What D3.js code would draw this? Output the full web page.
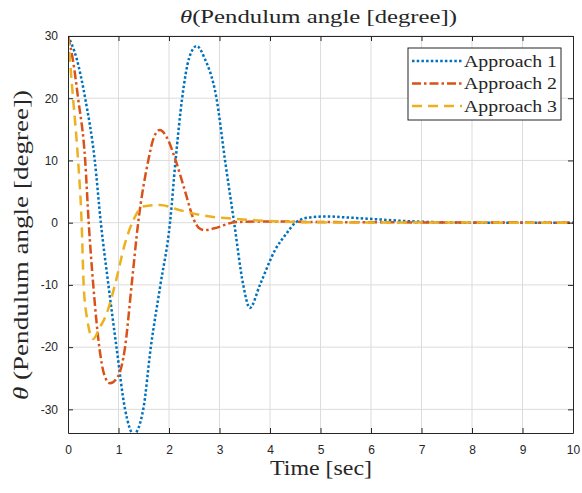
<!DOCTYPE html>
<meta charset="utf-8">
<style>
body { margin: 0; background: #fff; }
.tick text { font-family: "Liberation Sans", Arial, sans-serif; font-size: 12px; fill: #262626; }
.lbl { font-family: "Liberation Serif", "DejaVu Serif", serif; fill: #262626; }
.grid line { stroke: #dcdcdc; stroke-width: 1; }
</style>
<body>
<script src="https://cdn.jsdelivr.net/npm/d3@7"></script>
<script>

var width = 582,
    height = 493;

var margin = {top: 36, right: 9, bottom: 60, left: 68};

// values (time in sec, angle in degree)
var tApproach1 = [0, 0.17, 0.34, 0.53, 0.65, 0.8, 0.96, 1.13, 1.3, 1.49, 1.64, 1.83, 2.02, 2.13, 2.26, 2.4, 2.55, 2.7, 2.94, 3.11, 3.29, 3.47, 3.6, 3.8, 4.1, 4.33, 4.5, 4.75, 5.1, 5.6, 6.2, 6.6, 7.2, 8, 10];
var vApproach1 = [30, 26.4, 20, 10, 0, -10, -20, -30, -34, -30, -20, -10, 0, 10, 20, 26.5, 28.4, 26.5, 20, 10, 0, -10, -13.7, -10, -4.4, -1.7, 0, 0.8, 1.0, 0.8, 0.5, 0.3, 0.1, 0, 0];

var tApproach2 = [0, 0.1, 0.2, 0.34, 0.41, 0.5, 0.62, 0.72, 0.83, 0.99, 1.13, 1.26, 1.39, 1.59, 1.7, 1.82, 1.95, 2.12, 2.32, 2.48, 2.6, 2.7, 2.9, 3.33, 4, 5, 10];
var vApproach2 = [30, 26, 20, 10, 0, -10, -20, -24.5, -25.8, -24.7, -20, -10, 0, 10, 13.7, 14.9, 13.8, 10.3, 5, 0.7, -0.9, -1.2, -0.9, 0.1, 0.2, 0.1, 0];

var tApproach3 = [0, 0.1, 0.2, 0.27, 0.31, 0.38, 0.5, 0.62, 0.77, 0.93, 1.13, 1.3, 1.49, 1.82, 2.22, 2.61, 3.0, 3.33, 4, 5, 10];
var vApproach3 = [30, 20, 10, 0, -10, -15.5, -18.7, -17, -14.5, -10, -3.3, 0.5, 2.6, 2.85, 2.0, 1.25, 0.8, 0.6, 0.25, 0.05, 0];

var seriesNames = ["Approach 1", "Approach 2", "Approach 3"];
var seriesColors = ["#0072bd", "#d95319", "#edb120"];
var seriesDash = ["2.5,2.2", "9,3,2.5,3", "10,6"];

var xTicks = d3.range(0, 11, 1);
var yTicks = [-30, -20, -10, 0, 10, 20, 30];

var series = [
  d3.zip(tApproach1, vApproach1),
  d3.zip(tApproach2, vApproach2),
  d3.zip(tApproach3, vApproach3)
];

var x = d3.scaleLinear().domain([0, 10]).range([margin.left, width - margin.right]);
var y = d3.scaleLinear().domain([-33.8, 30]).range([height - margin.bottom, margin.top]);

var svg = d3.select("body").append("svg")
    .attr("width", width)
    .attr("height", height);

// grid
svg.append("g").attr("class", "grid")
  .selectAll("line").data(xTicks.slice(1, -1))
  .enter().append("line")
    .attr("x1", function(d) { return x(d); }).attr("x2", function(d) { return x(d); })
    .attr("y1", y.range()[0]).attr("y2", y.range()[1]);

svg.append("g").attr("class", "grid")
  .selectAll("line").data(yTicks)
  .enter().append("line")
    .attr("y1", function(d) { return y(d); }).attr("y2", function(d) { return y(d); })
    .attr("x1", x.range()[0]).attr("x2", x.range()[1]);

// curves
var line = d3.line()
    .x(function(d) { return x(d[0]); })
    .y(function(d) { return y(d[1]); })
    .curve(d3.curveMonotoneX);

svg.append("defs").append("clipPath").attr("id", "clip")
  .append("rect")
    .attr("x", x.range()[0]).attr("y", y.range()[1])
    .attr("width", x.range()[1] - x.range()[0])
    .attr("height", y.range()[0] - y.range()[1]);

svg.append("g").attr("clip-path", "url(#clip)")
  .selectAll("path").data(series)
  .enter().append("path")
    .attr("fill", "none")
    .attr("stroke", function(d, i) { return seriesColors[i]; })
    .attr("stroke-width", 2.5)
    .attr("stroke-dasharray", function(d, i) { return seriesDash[i]; })
    .attr("d", line);

// axes with ticks inside, box on
var fmt = function(d) { return String(d); };  // plain hyphen minus like the original

svg.append("g")
    .attr("transform", "translate(0," + y.range()[0] + ")")
    .call(d3.axisBottom(x).tickValues(xTicks).tickFormat(fmt).tickSizeInner(-5).tickSizeOuter(0).tickPadding(12));

svg.append("g")
    .attr("transform", "translate(0," + y.range()[1] + ")")
    .call(d3.axisTop(x).tickValues(xTicks).tickSizeInner(-5).tickSizeOuter(0).tickFormat(""));

svg.append("g")
    .attr("transform", "translate(" + x.range()[0] + ",0)")
    .call(d3.axisLeft(y).tickValues(yTicks).tickFormat(fmt).tickSizeInner(-5).tickSizeOuter(0).tickPadding(10));

svg.append("g")
    .attr("transform", "translate(" + x.range()[1] + ",0)")
    .call(d3.axisRight(y).tickValues(yTicks).tickSizeInner(-5).tickSizeOuter(0).tickFormat(""));

svg.selectAll(".domain, .tick line").attr("stroke", "#262626");

// title and labels
var title = svg.append("text").attr("class", "lbl")
    .attr("x", 180).attr("y", 23)
    .attr("textLength", 277).attr("lengthAdjust", "spacingAndGlyphs")
    .style("font-size", "19px");
title.append("tspan").style("font-style", "italic").text("θ");
title.append("tspan").text("(Pendulum angle [degree])");

svg.append("text").attr("class", "lbl")
    .attr("x", 270).attr("y", 475)
    .attr("textLength", 102).attr("lengthAdjust", "spacingAndGlyphs")
    .style("font-size", "21px")
    .text("Time [sec]");

var ylab = svg.append("text").attr("class", "lbl")
    .attr("transform", "translate(28,400) rotate(-90)")
    .attr("textLength", 310).attr("lengthAdjust", "spacingAndGlyphs")
    .style("font-size", "21px");
ylab.append("tspan").style("font-style", "italic").text("θ");
ylab.append("tspan").text(" (Pendulum angle [degree])");

// legend
var legend = svg.append("g").attr("transform", "translate(408,48)");

legend.append("rect")
    .attr("width", 153).attr("height", 72)
    .attr("fill", "#fff").attr("stroke", "#262626").attr("stroke-width", 1);

var item = legend.selectAll(".item").data(seriesNames)
  .enter().append("g")
    .attr("class", "item")
    .attr("transform", function(d, i) { return "translate(0," + (13 + i * 22.5) + ")"; });

item.append("line")
    .attr("x1", 4).attr("x2", 54)
    .attr("stroke", function(d, i) { return seriesColors[i]; })
    .attr("stroke-width", 2.5)
    .attr("stroke-dasharray", function(d, i) { return seriesDash[i]; });

item.append("text").attr("class", "lbl")
    .attr("x", 56).attr("dy", "0.35em")
    .attr("textLength", 93).attr("lengthAdjust", "spacingAndGlyphs")
    .style("font-size", "16.5px")
    .text(function(d) { return d; });

</script>
